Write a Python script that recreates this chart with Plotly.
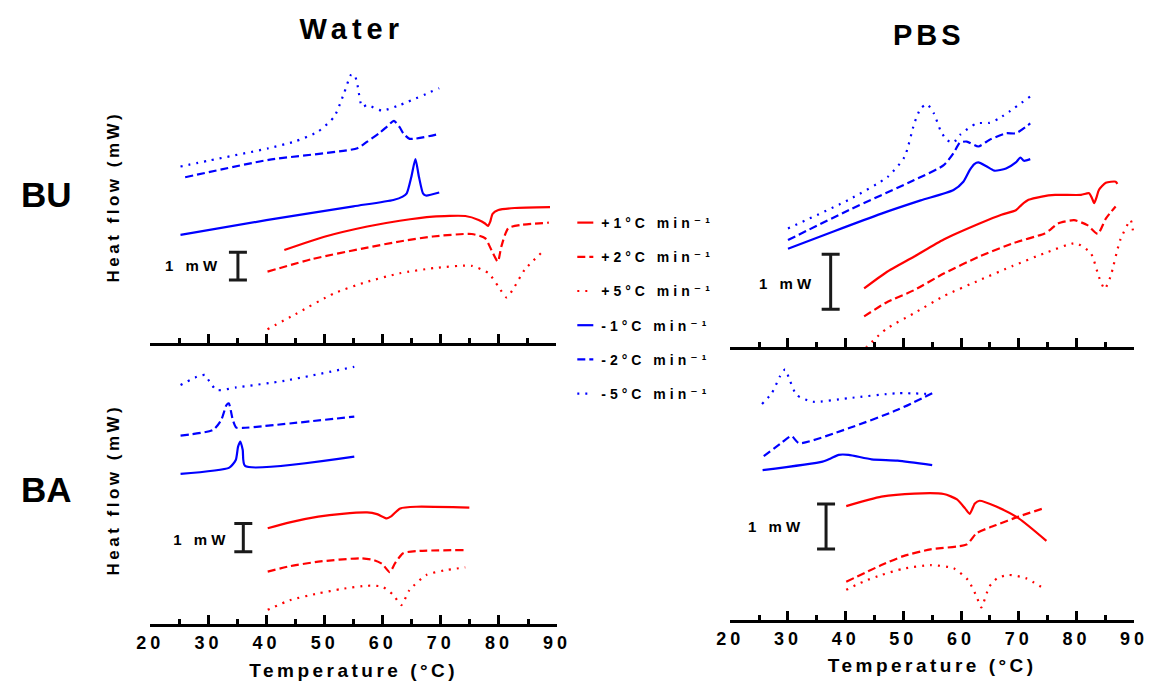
import plotly.graph_objects as go

# ---------------- data (temperature in °C, heat flow in mW, offset per curve) -------------
series_names = ["+1°C min⁻¹", "+2°C min⁻¹", "+5°C min⁻¹",
                "-1°C min⁻¹", "-2°C min⁻¹", "-5°C min⁻¹"]
series_colors = ["#FF0000", "#FF0000", "#FF0000", "#0000FF", "#0000FF", "#0000FF"]
series_dash = ["solid", "8px,4px", "2px,6px", "solid", "8px,4px", "2px,6px"]

x_ticks = [20, 30, 40, 50, 60, 70, 80, 90]

# Water, BU
wbu_h1_T = [43.1, 50.0, 57.4, 63.0, 68.7, 74.3, 76.6, 77.7, 78.2, 78.6, 79.0, 80.0, 82.8, 88.9]
wbu_h1_y = [3.37, 3.85, 4.22, 4.43, 4.58, 4.60, 4.46, 4.33, 4.24, 4.40, 4.68, 4.82, 4.89, 4.92]
wbu_h2_T = [40.2, 48.0, 57.4, 63.0, 68.7, 75.4, 77.7, 78.8, 79.9, 80.5, 81.7, 83.9, 88.7]
wbu_h2_y = [2.59, 3.05, 3.46, 3.68, 3.86, 3.95, 3.80, 3.37, 2.95, 3.49, 4.16, 4.28, 4.36]
wbu_h5_T = [40.2, 45.0, 51.7, 57.0, 63.0, 69.0, 75.4, 78.3, 80.0, 81.4, 82.8, 84.5, 87.9]
wbu_h5_y = [0.51, 1.05, 1.81, 2.20, 2.53, 2.72, 2.80, 2.53, 2.05, 1.66, 2.05, 2.65, 3.37]
wbu_c1_T = [25.2, 40.0, 55.0, 61.9, 63.5, 64.2, 65.0, 65.7, 66.3, 67.0, 67.5, 69.8]
wbu_c1_y = [3.92, 4.45, 4.95, 5.18, 5.30, 5.42, 6.02, 6.66, 6.02, 5.42, 5.34, 5.45]
wbu_c2_T = [26.0, 40.4, 55.7, 57.4, 59.5, 60.8, 62.0, 63.0, 63.6, 64.7, 69.8]
wbu_c2_y = [6.00, 6.63, 7.05, 7.29, 7.60, 7.83, 8.04, 7.80, 7.59, 7.39, 7.57]
wbu_c5_T = [25.2, 30.0, 40.4, 45.0, 48.9, 51.7, 53.4, 54.6, 55.2, 55.7, 56.5, 57.4, 59.9, 63.0, 69.8]
wbu_c5_y = [6.39, 6.60, 7.05, 7.30, 7.65, 8.19, 9.04, 9.70, 9.70, 9.34, 8.55, 8.61, 8.41, 8.61, 9.22]

# PBS, BU
pbu_h1_T = [43.2, 47.0, 51.9, 57.0, 63.2, 67.0, 69.5, 70.5, 71.7, 74.0, 76.3, 80.8, 82.2, 82.7, 83.1, 83.5, 83.9, 85.1, 86.8, 87.1]
pbu_h1_y = [1.06, 1.35, 1.64, 1.95, 2.24, 2.40, 2.48, 2.58, 2.67, 2.73, 2.76, 2.76, 2.79, 2.70, 2.61, 2.72, 2.85, 2.98, 3.00, 2.96]
pbu_h2_T = [43.2, 47.0, 51.9, 57.0, 63.2, 69.0, 74.5, 75.5, 76.8, 79.6, 81.9, 83.7, 85.1, 86.8]
pbu_h2_y = [0.55, 0.80, 1.03, 1.33, 1.64, 1.88, 2.06, 2.13, 2.24, 2.30, 2.21, 2.05, 2.33, 2.55]
pbu_h5_T = [43.5, 47.0, 51.9, 57.0, 63.2, 69.0, 74.5, 79.9, 82.5, 83.9, 84.9, 85.9, 87.6, 89.4, 89.9]
pbu_h5_y = [-0.02, 0.32, 0.61, 0.92, 1.21, 1.47, 1.70, 1.88, 1.70, 1.27, 1.05, 1.27, 1.94, 2.30, 2.03]
pbu_c1_T = [30.0, 38.0, 46.2, 53.0, 58.7, 60.4, 61.5, 62.3, 63.0, 64.4, 65.8, 67.8, 69.5, 70.3, 70.9, 72.0]
pbu_c1_y = [1.78, 2.10, 2.42, 2.66, 2.85, 3.00, 3.21, 3.32, 3.35, 3.28, 3.20, 3.24, 3.35, 3.44, 3.38, 3.41]
pbu_c2_T = [30.0, 40.5, 51.9, 57.0, 58.7, 59.8, 61.0, 63.0, 64.9, 67.8, 69.5, 72.0]
pbu_c2_y = [1.94, 2.48, 3.03, 3.30, 3.52, 3.71, 3.73, 3.64, 3.76, 3.88, 3.88, 4.06]
pbu_c5_T = [30.0, 40.5, 47.3, 50.2, 51.9, 53.0, 54.1, 55.3, 56.4, 57.5, 58.7, 59.8, 62.7, 64.9, 66.6, 72.0]
pbu_c5_y = [2.15, 2.67, 3.09, 3.45, 4.06, 4.33, 4.41, 4.24, 3.94, 3.76, 3.71, 3.85, 4.06, 4.07, 4.15, 4.55]

# Water, BA
wba_h1_T = [40.2, 44.0, 48.9, 53.0, 57.3, 59.0, 60.7, 61.5, 63.0, 65.8, 74.9]
wba_h1_y = [3.39, 3.60, 3.80, 3.90, 3.95, 3.89, 3.74, 3.82, 4.09, 4.15, 4.12]
wba_h2_T = [40.2, 44.0, 48.9, 56.2, 58.4, 59.9, 61.2, 62.1, 63.5, 66.3, 73.9]
wba_h2_y = [1.86, 2.05, 2.21, 2.33, 2.27, 2.13, 1.84, 2.15, 2.51, 2.59, 2.62]
wba_h5_T = [40.2, 44.0, 48.9, 53.0, 57.3, 59.9, 61.8, 63.2, 64.6, 67.5, 70.5, 74.2]
wba_h5_y = [0.51, 0.85, 1.09, 1.25, 1.36, 1.33, 1.04, 0.68, 1.21, 1.74, 1.90, 2.01]
wba_c1_T = [25.2, 33.6, 34.7, 35.1, 35.5, 35.9, 36.3, 55.1]
wba_c1_y = [5.31, 5.53, 5.80, 6.27, 6.45, 6.15, 5.59, 5.92]
wba_c2_T = [25.2, 30.8, 32.2, 33.1, 33.5, 34.2, 34.8, 35.9, 55.1]
wba_c2_y = [6.66, 6.86, 7.21, 7.74, 7.80, 7.21, 6.94, 6.93, 7.33]
wba_c5_T = [25.2, 28.3, 29.4, 30.2, 31.4, 34.8, 43.2, 55.1]
wba_c5_y = [8.45, 8.76, 8.80, 8.56, 8.27, 8.36, 8.60, 9.09]

# PBS, BA
pba_h1_T = [40.1, 46.2, 51.9, 57.0, 59.3, 60.7, 61.5, 62.4, 63.2, 66.1, 70.0, 74.8]
pba_h1_y = [2.53, 2.74, 2.81, 2.80, 2.68, 2.48, 2.36, 2.59, 2.65, 2.52, 2.26, 1.76]
pba_h2_T = [40.1, 46.2, 50.0, 54.7, 61.0, 62.7, 66.1, 70.0, 74.0]
pba_h2_y = [0.85, 1.22, 1.42, 1.57, 1.68, 1.93, 2.11, 2.30, 2.47]
pba_h5_T = [40.1, 43.0, 46.2, 50.0, 54.7, 58.7, 61.2, 62.7, 63.5, 64.9, 66.3, 68.3, 71.2, 74.6]
pba_h5_y = [0.67, 0.85, 1.00, 1.14, 1.22, 1.15, 0.89, 0.52, 0.28, 0.74, 0.93, 1.00, 0.93, 0.68]
pba_c1_T = [25.6, 36.0, 37.4, 38.8, 40.5, 44.5, 49.0, 55.0]
pba_c1_y = [3.33, 3.52, 3.59, 3.67, 3.67, 3.57, 3.54, 3.44]
pba_c2_T = [25.8, 28.9, 30.6, 31.9, 40.5, 49.0, 55.0]
pba_c2_y = [3.64, 3.94, 4.09, 3.93, 4.26, 4.67, 5.04]
pba_c5_T = [25.5, 27.2, 28.6, 29.5, 30.3, 31.5, 34.3, 40.5, 49.0, 55.0]
pba_c5_y = [4.80, 5.04, 5.41, 5.57, 5.33, 5.00, 4.85, 4.93, 5.04, 5.02]

# 1 mW scale bars: position (°C) and centre (mW), per panel TL, TR, BL, BR
scalebar_T = [35.1, 37.4, 36.0, 36.6]
scalebar_y = [2.79, 1.18, 3.06, 2.08]
scalebar_label = "1 mW"
scalebar_label_T = [32.2, 34.7, 33.6, 32.8]
scalebar_label_y = [2.75, 1.12, 2.94, 2.05]

# ---------------- figure ----------------
# The page body keeps its default 8 px margin, so the figure is sized to fill
# the 1157x690 window exactly; PX/PY convert window pixels to paper coords.
WIN_W, WIN_H, MARGIN = 1157, 690, 8
W, H = WIN_W - 2 * MARGIN, WIN_H - 2 * MARGIN
FONT = "Liberation Sans, Arial, DejaVu Sans, sans-serif"

def PX(px):
    return (px - MARGIN) / W

def PY(py):
    return 1 - (py - MARGIN) / H

panels = [
    dict(ax="x", ay="y", data=[(wbu_h1_T, wbu_h1_y), (wbu_h2_T, wbu_h2_y), (wbu_h5_T, wbu_h5_y),
                               (wbu_c1_T, wbu_c1_y), (wbu_c2_T, wbu_c2_y), (wbu_c5_T, wbu_c5_y)]),
    dict(ax="x2", ay="y2", data=[(pbu_h1_T, pbu_h1_y), (pbu_h2_T, pbu_h2_y), (pbu_h5_T, pbu_h5_y),
                                 (pbu_c1_T, pbu_c1_y), (pbu_c2_T, pbu_c2_y), (pbu_c5_T, pbu_c5_y)]),
    dict(ax="x3", ay="y3", data=[(wba_h1_T, wba_h1_y), (wba_h2_T, wba_h2_y), (wba_h5_T, wba_h5_y),
                                 (wba_c1_T, wba_c1_y), (wba_c2_T, wba_c2_y), (wba_c5_T, wba_c5_y)]),
    dict(ax="x4", ay="y4", data=[(pba_h1_T, pba_h1_y), (pba_h2_T, pba_h2_y), (pba_h5_T, pba_h5_y),
                                 (pba_c1_T, pba_c1_y), (pba_c2_T, pba_c2_y), (pba_c5_T, pba_c5_y)]),
]

fig = go.Figure()
for p_i, p in enumerate(panels):
    for s_i, (T, y) in enumerate(p["data"]):
        fig.add_trace(go.Scatter(
            x=T, y=y, mode="lines", xaxis=p["ax"], yaxis=p["ay"],
            line=dict(color=series_colors[s_i], width=2.2, dash=series_dash[s_i],
                      shape="spline", smoothing=0.6),
            name=series_names[s_i], legendgroup=series_names[s_i],
            showlegend=(p_i == 0), hoverinfo="skip"))
    # scale bar (I-beam drawn as an error bar)
    fig.add_trace(go.Scatter(
        x=[scalebar_T[p_i]], y=[scalebar_y[p_i]], mode="markers",
        xaxis=p["ax"], yaxis=p["ay"], showlegend=False, hoverinfo="skip",
        marker=dict(size=1, color="rgba(0,0,0,0)"),
        error_y=dict(type="data", array=[0.5], symmetric=True, width=9,
                     thickness=3, color="#1a1a1a")))
    # scale bar label
    fig.add_trace(go.Scatter(
        x=[scalebar_label_T[p_i]], y=[scalebar_label_y[p_i]], mode="text",
        text=[scalebar_label], textposition="middle left",
        textfont=dict(family=FONT, size=15, color="black", weight="bold"),
        xaxis=p["ax"], yaxis=p["ay"], showlegend=False, hoverinfo="skip"))

# (x-domain px, y-domain px top/bottom, px per mW), in window pixels
geom = [
    ((142.7, 556.0), (50.0, 343.3), 27.67),
    ((733.0, 1144.0), (60.0, 346.7), 55.0),
    ((142.7, 556.7), (355.0, 624.3), 28.33),
    ((733.0, 1144.0), (355.0, 620.0), 45.0),
]

axis_common = dict(range=[20, 90], showline=True, linewidth=3, linecolor="black",
                   ticks="inside", ticklen=9, tickwidth=3, tickcolor="black",
                   tickmode="array", tickvals=x_ticks, showgrid=False, zeroline=False,
                   minor=dict(dtick=5, tick0=20, ticks="inside", ticklen=5, tickwidth=3,
                              tickcolor="black", showgrid=False),
                   tickfont=dict(family=FONT, size=18, color="black", weight="bold"),
                   ticklabeloverflow="allow", fixedrange=True)

title_font = dict(family=FONT, size=19, color="black", weight="bold")
ytitle_font = dict(family=FONT, size=17, color="black", weight="bold")

layout = dict(width=W, height=H, margin=dict(l=0, r=0, t=0, b=0),
              paper_bgcolor="white", plot_bgcolor="white", showlegend=True,
              font=dict(family=FONT, size=15, color="black"))
for i, ((xa0, xa1), (ytop, ybot), scale) in enumerate(geom):
    sx = "" if i == 0 else str(i + 1)
    xa = dict(axis_common, domain=[PX(xa0), PX(xa1)], anchor="y" + sx,
              showticklabels=(i >= 2))
    if i >= 2:
        xa["title"] = dict(text="Temperature (°C)", font=title_font, standoff=12)
    layout["xaxis" + sx] = xa
    ya = dict(domain=[PY(ybot), PY(ytop)], anchor="x" + sx, range=[0, (ybot - ytop) / scale],
              fixedrange=True, showline=False, showticklabels=False, ticks="",
              showgrid=False, zeroline=False)
    if i in (0, 2):
        ya["title"] = dict(text="Heat flow (mW)", font=ytitle_font, standoff=25)
    layout["yaxis" + sx] = ya

layout["legend"] = dict(x=PX(561), y=PY(207), xanchor="left", yanchor="top",
                        font=dict(family=FONT, size=14, color="black", weight="bold"),
                        tracegroupgap=13, bgcolor="rgba(0,0,0,0)", borderwidth=0,
                        itemwidth=30)
fig.update_layout(**layout)

ann = []
def txt(px, py, s, size):
    ann.append(dict(x=PX(px), y=PY(py), xref="paper", yref="paper", text=s, showarrow=False,
                    xanchor="center", yanchor="middle",
                    font=dict(family=FONT, size=size, color="black", weight="bold")))

txt(348, 29, "Water", 29)
txt(935, 35, "PBS", 29)
txt(37, 195, "BU", 35)
txt(37, 489, "BA", 35)
fig.update_layout(annotations=ann)

post = ("document.documentElement.style.overflow='hidden';"
        "document.body.style.overflow='hidden';"
        "var s=document.createElement('style');"
        "s.innerHTML='.main-svg{overflow:visible;} .main-svg text{letter-spacing:4px;}"
        " .main-svg .xtick text{letter-spacing:2px;}"
        " .main-svg .xtitle, .main-svg .x3title, .main-svg .x4title{letter-spacing:3.5px;}"
        " .main-svg .ytitle, .main-svg .y3title{letter-spacing:3.5px;}"
        " .main-svg .legendtext{letter-spacing:4px;}"
        " .main-svg .legendlines path{d:path(\"M16,0h16\");}"
        " .main-svg text[data-unformatted=\"BU\"], .main-svg text[data-unformatted=\"BA\"]{letter-spacing:0;}"
        " .main-svg text[data-unformatted=\"Water\"]{letter-spacing:5px;}"
        " .main-svg .legend .scrollbox{clip-path:none !important;}';"
        "document.head.appendChild(s);")
fig.write_html("out.html", post_script=post, config={"displayModeBar": False})
